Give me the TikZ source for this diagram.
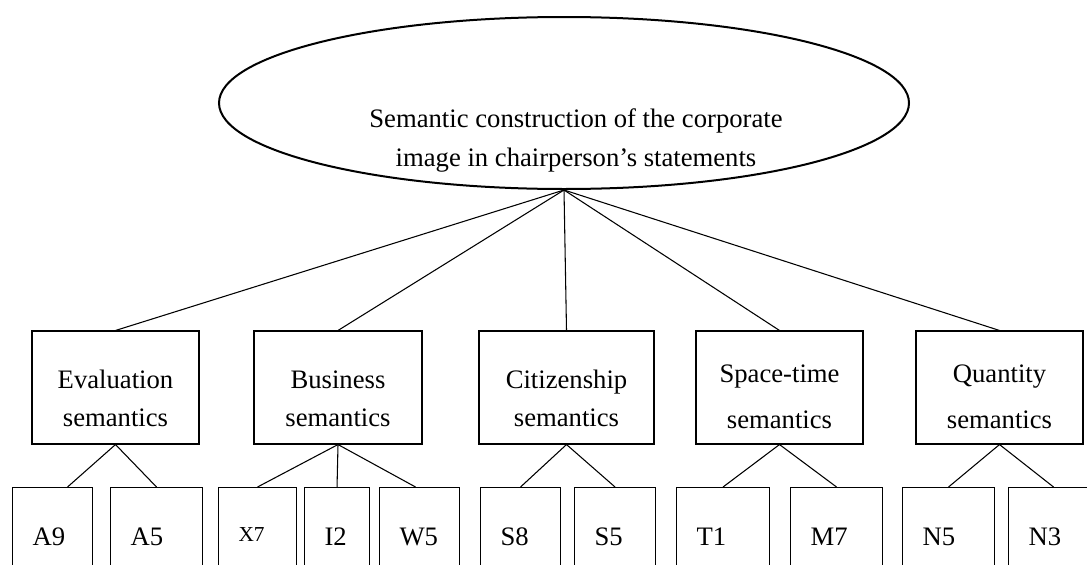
\documentclass[tikz,border=0pt]{standalone}
\usepackage{fontspec}
\setmainfont{Liberation Serif}
\usetikzlibrary{shapes.geometric, calc}
\tikzset{
	topnode/.style ={ellipse, draw=black, line width=1.5pt, minimum width=517.5pt, minimum height=129pt, inner sep=0pt},
	midbox/.style  ={rectangle, draw=black, line width=0.8pt, minimum height=84.75pt, inner sep=0pt},
	midtext/.style ={align=center, inner sep=0pt},
	% leaf boxes: text set at the left, box cut off by the frame
	leafbox/.style ={rectangle, draw=black, line width=0.8pt, anchor=north west, minimum height=73.5pt, inner xsep=15pt, inner ysep=0pt, align=left, text width=#1},
	branch/.style  ={line width=0.8pt},
}
\begin{document}
\begin{tikzpicture}[x=0.75pt, y=-0.75pt, font=\fontsize{20}{28.5}\selectfont]
	\useasboundingbox (0,0) rectangle (1087,564);
	\clip (0,0) rectangle (1087,564);
	% top
	\node[topnode] (top) at (564,103) {};
	\node[midtext] (toptext) at ([xshift=9pt, yshift=-28pt]top.center) {Semantic construction of the corporate\\[1pt]image in chairperson’s statements};
	% second level
	\node[midbox, minimum width=125.25pt] (eval) at (115.5,387.5) {};
	\node[midbox, minimum width=126pt]    (bus)  at (338,387.5) {};
	\node[midbox, minimum width=131.25pt] (cit)  at (566.5,387.5) {};
	\node[midbox, minimum width=125.25pt] (spt)  at (779.5,387.5) {};
	\node[midbox, minimum width=125.25pt] (qty)  at (999.5,387.5) {};
	\node[midtext] (evaltext) at ([yshift=-8.5pt]eval.center) {Evaluation\\semantics};
	\node[midtext] (bustext)  at ([yshift=-8.5pt]bus.center) {Business\\semantics};
	\node[midtext] (cittext)  at ([yshift=-8.5pt]cit.center) {Citizenship\\semantics};
	\node[midtext] (spttext)  at ([yshift=-7pt]spt.center) {Space-time\\[6.5pt]semantics};
	\node[midtext] (qtytext)  at ([yshift=-7pt]qty.center) {Quantity\\[6.5pt]semantics};
	% third level
	\node[leafbox=30pt]    (a9) at (12,487) {A9};
	\node[leafbox=39pt]    (a5) at (110,487) {A5};
	\node[leafbox=28.5pt]  (x7) at (218,487) {\raisebox{3pt}{\fontsize{16}{18}\selectfont X7}};
	\node[leafbox=18.75pt] (i2) at (304,487) {I2};
	\node[leafbox=30pt]    (w5) at (379,487) {W5};
	\node[leafbox=30pt]    (s8) at (480,487) {S8};
	\node[leafbox=30.75pt] (s5) at (574,487) {S5};
	\node[leafbox=39.75pt] (t1) at (676,487) {T1};
	\node[leafbox=39pt]    (m7) at (790,487) {M7};
	\node[leafbox=39pt]    (n5) at (902,487) {N5};
	\node[leafbox=37.5pt]  (n3) at (1008,487) {N3};
	% links
	\foreach \mid in {eval,bus,cit,spt,qty}
		\draw[branch] (top.south) -- (\mid.north);
	\draw[branch] (eval.south) -- ($(a9.north)+(15,0)$);
	\draw[branch] (eval.south) -- (a5.north);
	\foreach \leaf in {x7,i2}
		\draw[branch] (bus.south) -- (\leaf.north);
	\draw[branch] (bus.south) -- ($(w5.north)+(-4,0)$);
	\foreach \leaf in {s8,s5}
		\draw[branch] (cit.south) -- (\leaf.north);
	\foreach \leaf in {t1,m7}
		\draw[branch] (spt.south) -- (\leaf.north);
	\foreach \leaf in {n5,n3}
		\draw[branch] (qty.south) -- (\leaf.north);
\end{tikzpicture}
\end{document}
